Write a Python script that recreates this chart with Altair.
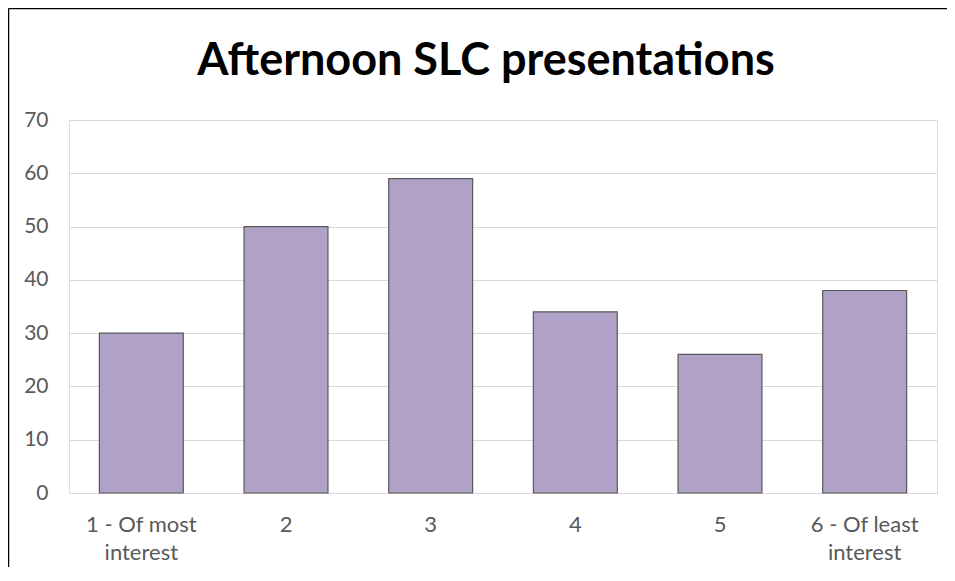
import altair as alt
import pandas as pd

title_text = ["Afternoon SLC presentations"]
categories = ["1 - Of most interest", "2", "3", "4", "5", "6 - Of least interest"]
values = [30, 50, 59, 34, 26, 38]

df = pd.DataFrame({"category": categories, "value": values})
title_df = pd.DataFrame({"title": title_text})

label_expr = (
    "datum.value == '1 - Of most interest' ? ['1 - Of most', 'interest'] : "
    "datum.value == '6 - Of least interest' ? ['6 - Of least', 'interest'] : datum.value"
)

bars = alt.Chart(df).mark_bar(
    color="#b0a1c6", stroke="#595959", strokeWidth=1.2
).encode(
    x=alt.X(
        "category:N",
        sort=categories,
        title=None,
        scale=alt.Scale(paddingInner=0.42, paddingOuter=0.21),
        axis=alt.Axis(
            labelAngle=0,
            labelExpr=label_expr,
            labelFont="Lato",
            labelFontSize=22,
            labelColor="#595959",
            labelLineHeight=28,
            labelPadding=21,
            ticks=False,
            domainColor="#d9d9d9",
            domainWidth=1,
            grid=False,
        ),
    ),
    y=alt.Y(
        "value:Q",
        title=None,
        scale=alt.Scale(domain=[0, 70]),
        axis=alt.Axis(
            values=[0, 10, 20, 30, 40, 50, 60, 70],
            labelFont="Lato",
            labelFontSize=21,
            labelColor="#595959",
            labelPadding=21,
            ticks=False,
            domain=False,
            gridColor="#d9d9d9",
            gridWidth=1,
        ),
    ),
)

title = alt.Chart(title_df).mark_text(
    font="Lato", fontSize=45, fontWeight="bold", color="#000000",
    align="center", baseline="alphabetic"
).encode(
    text="title:N",
    x=alt.value(417),
    y=alt.value(-45),
)

one = alt.Data(values=[{"f": 1}])
top_edge = alt.Chart(one).mark_rule(color="#000000", strokeWidth=1.5).encode(
    x=alt.value(-60.5), x2=alt.value(900), y=alt.value(-111.5)
)
left_edge = alt.Chart(one).mark_rule(color="#000000", strokeWidth=1.5).encode(
    x=alt.value(-60.5), y=alt.value(-111.5), y2=alt.value(460)
)

chart = alt.layer(bars, title, top_edge, left_edge).properties(
    width=868,
    height=373,
    padding={"left": 61, "top": 112, "right": 10, "bottom": 74},
    autosize=alt.AutoSizeParams(type="none"),
).configure_view(strokeWidth=0, stroke="transparent").configure(background="white")

chart.save("out.html", embed_options={"renderer": "svg", "actions": False})
